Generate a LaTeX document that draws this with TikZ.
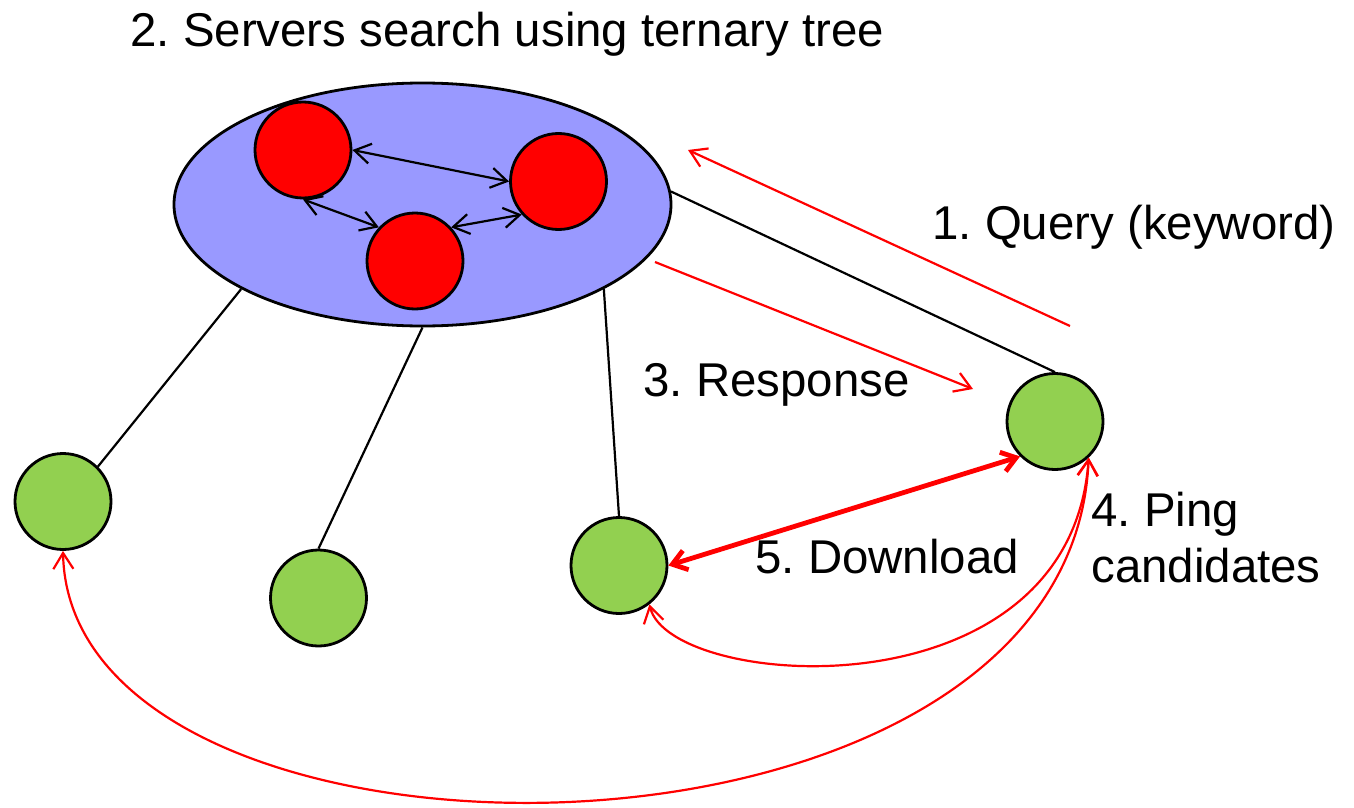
\documentclass[tikz,border=0pt]{standalone}
\usepackage{fontspec}
\setmainfont{Liberation Sans}
\usetikzlibrary{shapes.geometric,arrows.meta}
\definecolor{cloudblue}{HTML}{9999FF}
\definecolor{serverred}{HTML}{FF0000}
\definecolor{peergreen}{HTML}{92D050}
\frenchspacing

\begin{document}
\begin{tikzpicture}[x=0.5pt,y=-0.5pt,
  srvnode/.style={circle,draw=black,line width=1.4pt,fill=serverred,minimum size=48pt,inner sep=0pt},
  peernode/.style={circle,draw=black,line width=1.4pt,fill=peergreen,minimum size=48pt,inner sep=0pt},
  wire/.style={draw=black,line width=1.1pt},
  barb/.tip={Straight Barb[length=8pt,width=10pt]},
  treelink/.style={draw=black,line width=1.1pt,barb-barb},
  msg/.style={draw=red,line width=1.1pt,-barb},
  ping/.style={draw=red,line width=1.1pt,barb-barb},
  fetch/.style={draw=red,line width=2.4pt,{Straight Barb[length=7pt,width=10pt]}-{Straight Barb[length=7pt,width=10pt]}},
  txt/.style={font=\fontsize{23.7pt}{27pt}\selectfont,inner sep=0pt,anchor=base west}]

\useasboundingbox (0,0) rectangle (1354,808);

% server cloud with the three index servers
\node[ellipse,draw=black,line width=1.4pt,fill=cloudblue,minimum width=248.5pt,minimum height=121.5pt,inner sep=0pt] (E) at (422.5,204.5) {};
\node[srvnode] (R1) at (303,150) {};
\node[srvnode] (R2) at (558.5,181.5) {};
\node[srvnode] (R3) at (415,261) {};

\draw[treelink] (R1.0) -- (R2.180);
\draw[treelink] (R1.270) -- (R3.137);
\draw[treelink] (R3.43) -- (R2.222);

% peers
\node[peernode] (G1) at (63,501.5) {};
\node[peernode] (G2) at (318.5,598) {};
\node[peernode] (G3) at (619,565.5) {};
\node[peernode] (G4) at (1055,421.5) {};

\draw[wire] (E.205) -- (G1.45);
\draw[wire] (E.south) -- (G2.north);
\draw[wire] (E.335) -- (G3.north);
\draw[wire] (E.3) -- (G4.north);

% query and response
\coordinate (qs) at (1070,326);
\coordinate (qe) at (688,150);
\coordinate (rs) at (655,262);
\coordinate (re) at (973,389);
\draw[msg] (qs) -- (qe);
\draw[msg] (rs) -- (re);

% pings and download
\draw[ping] (G4.313) .. controls (1070,720) and (670,690) .. (G3.308);
\draw[ping] (G4.313) .. controls (1070,900) and (70,900) .. (G1.south);
\draw[fetch] (G3.east) -- (G4.225);

% labels
\node[txt] (t2) at (130,47) {2. Servers search using ternary tree};
\node[txt] (t1) at (932,239) {1. Query (keyword)};
\node[txt] (t3) at (643,396) {3. Response};
\node[txt] (t5) at (755,573) {5. Download};
\node[txt] (t4a) at (1091,526) {4. Ping};
\node[txt] (t4b) at (1091,582) {candidates};
\end{tikzpicture}
\end{document}
